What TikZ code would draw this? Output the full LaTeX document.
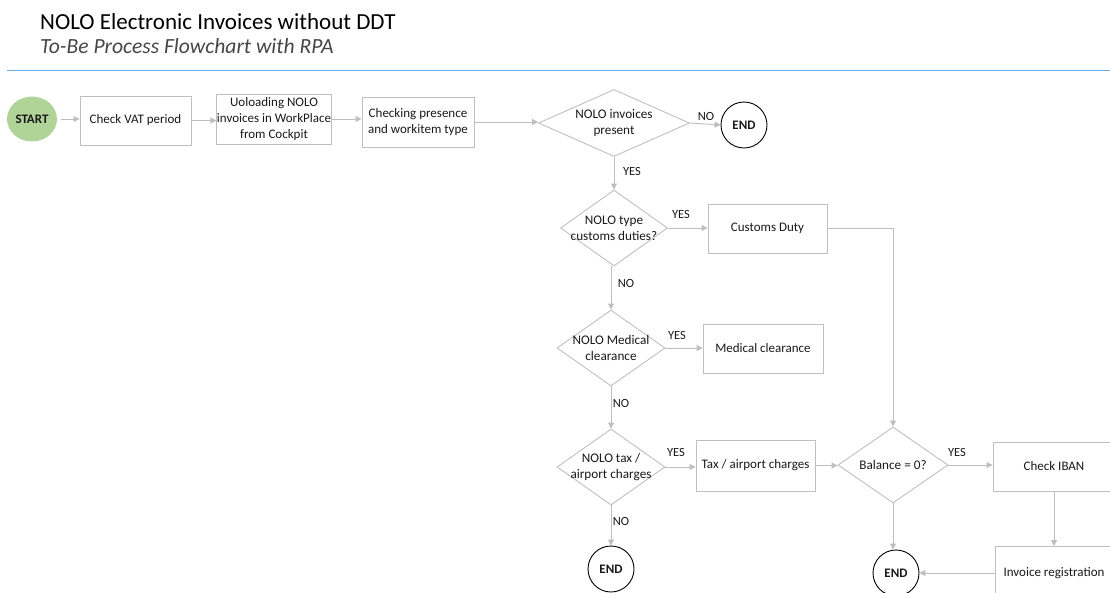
\documentclass[tikz,border=0pt]{standalone}
\usepackage{fontspec}
\setmainfont{Carlito}
\usetikzlibrary{shapes.geometric,arrows.meta}
\definecolor{boxgray}{RGB}{191,191,191}
\definecolor{arrgray}{RGB}{190,190,190}
\definecolor{startgreen}{RGB}{176,212,152}
\definecolor{lineblue}{RGB}{100,170,228}
\definecolor{txt}{RGB}{25,25,25}
\definecolor{subgray}{RGB}{70,70,70}
\begin{document}
\begin{tikzpicture}[x=1pt,y=-1pt,
  every node/.style={text=txt, font=\fontsize{13}{15.7}\selectfont},
  proc/.style={draw=boxgray, line width=0.9pt, rectangle, align=center, inner sep=0pt},
  dec/.style={draw=boxgray, line width=0.9pt, diamond, inner sep=0pt},
  dtext/.style={align=center, text=txt, font=\fontsize{13.2}{15.7}\selectfont},
  endc/.style={draw=black, line width=0.9pt, circle, minimum size=46pt, inner sep=0pt, font=\bfseries\fontsize{13}{15}\selectfont},
  flow/.style={draw=arrgray, line width=0.9pt, -{Triangle[width=6pt,length=6pt]}},
  lab/.style={font=\fontsize{12.5}{14}\selectfont, inner sep=0pt}
]
\useasboundingbox (0,0) rectangle (1110,592);
\clip (0,0) rectangle (1110,592);

% title
\node[anchor=base west, inner sep=0pt, font=\fontsize{23}{27}\selectfont, text=black] (title) at (40,29) {NOLO Electronic Invoices without DDT};
\node[anchor=base west, inner sep=0pt, font=\itshape\fontsize{21.6}{26}\selectfont, text=subgray] (subtitle) at (40,53) {To-Be Process Flowchart with RPA};
\coordinate (bl) at (7,70.5);
\coordinate (br) at (1110,70.5);
\draw[lineblue, line width=1.8pt] (bl) -- (br);

% nodes
\node[ellipse, fill=startgreen, minimum width=50pt, minimum height=45pt, inner sep=0pt, font=\bfseries\fontsize{13}{15}\selectfont] (start) at (32,119) {START};
\node[proc, minimum width=111pt, minimum height=49pt] (vat) at (135.5,120.5) {Check VAT period};
\node[proc, minimum width=112pt, minimum height=50pt] (upl) at (274,119) {Uoloading NOLO\\invoices in WorkPlace\\from Cockpit};
\node[proc, minimum width=112pt, minimum height=50pt] (chk) at (418,122) {Checking presence\\and workitem type};
\node[dec, minimum width=151pt, minimum height=67pt, label={[dtext]center:NOLO invoices\\present}] (d1) at (614,123) {};
\node[endc] (end1) at (744,125) {END};
\node[dec, minimum width=107pt, minimum height=76pt, label={[dtext]center:NOLO type\\customs duties?}] (d2) at (614,228) {};
\node[proc, minimum width=119pt, minimum height=49pt] (cust) at (767.5,228.5) {Customs Duty};
\node[dec, minimum width=108pt, minimum height=76pt, label={[dtext]center:NOLO Medical\\clearance}] (d3) at (611,348) {};
\node[proc, minimum width=120pt, minimum height=49pt] (med) at (763,348.5) {Medical clearance};
\node[dec, minimum width=108pt, minimum height=76pt, label={[dtext]center:NOLO tax /\\airport charges}] (d4) at (611,467) {};
\node[proc, minimum width=119pt, minimum height=51pt] (tax) at (755.5,465.5) {Tax / airport charges};
\node[endc] (end2) at (611,569) {END};
\node[dec, minimum width=110pt, minimum height=76pt, label={[dtext]center:Balance = 0?}] (bal) at (893,465) {};
\node[proc, minimum width=122pt, minimum height=49pt] (iban) at (1054,466.5) {Check IBAN};
\node[proc, minimum width=118pt, minimum height=53pt] (inv) at (1054,573) {Invoice registration};
\node[endc] (end3) at (896,573) {END};

% connectors
\draw[flow] (start.east) ++(4,0) coordinate (s0) (s0) -- (s0 -| vat.west);
\draw[flow] (vat) -- (vat -| upl.west);
\draw[flow] (upl) -- (upl -| chk.west);
\draw[flow] (chk) -- (chk -| d1.west);
\draw[flow] (d1.east) -- (end1.west);
\draw[flow] (d1.south) -- (d2.north);
\draw[flow] (d2.east) -- (d2.east -| cust.west);
\draw[flow] (cust.east) -| (bal.north);
\draw[flow] (d3.north |- d2.south) -- (d3.north);
\draw[flow] (d3.east) -- (d3.east -| med.west);
\draw[flow] (d3.south) -- (d4.north);
\draw[flow] (d4.east) -- (d4.east -| tax.west);
\draw[flow] (d4.south) -- (end2.north);
\draw[flow] (tax) -- (tax -| bal.west);
\draw[flow] (bal.east) -- (bal.east -| iban.west);
\draw[flow] (bal.south) -- (bal.south |- end3.north);
\draw[flow] (iban.south) -- (inv.north);
\draw[flow] (inv.west) -- (end3.east);

% labels
\node[lab] (l1) at (706,116) {NO};
\node[lab] (l2) at (632,171) {YES};
\node[lab] (l3) at (681,214) {YES};
\node[lab] (l4) at (626,283) {NO};
\node[lab] (l5) at (677,335) {YES};
\node[lab] (l6) at (621,403) {NO};
\node[lab] (l7) at (676,452) {YES};
\node[lab] (l8) at (621,521) {NO};
\node[lab] (l9) at (957,452) {YES};
\end{tikzpicture}
\end{document}
